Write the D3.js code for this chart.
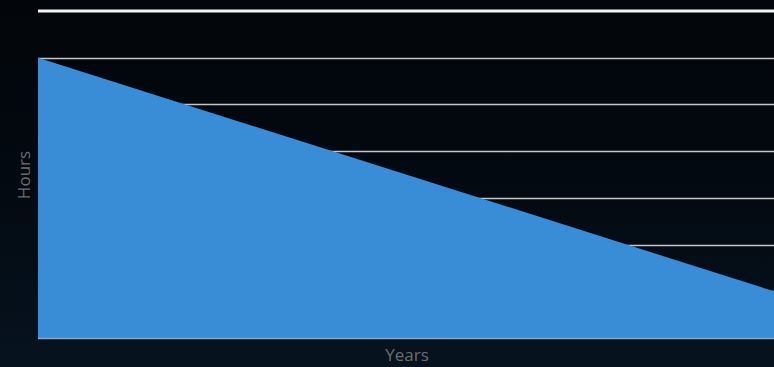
<!DOCTYPE html>
<html lang="en">
<head><meta charset="utf-8"><title>Hours over years</title>
<style>
  html, body { margin: 0; padding: 0; background: #02060b; }
  svg { display: block; }
</style>
</head>
<body>
<svg width="774" height="367"></svg>
<script src="https://d3js.org/d3.v7.min.js"></script>
<script>
// values
var years = [0, 1];
var hours = [6, 1];
var gridTicks = [1, 2, 3, 4, 5, 6];
var topValue = 7;

var svg = d3.select("svg"),
    width = +svg.attr("width"),
    height = +svg.attr("height"),
    margin = { top: 11, right: 0, bottom: 29, left: 38 };

// background: dark navy with a slight glow toward the bottom
var defs = svg.append("defs");
var bg = defs.append("linearGradient").attr("id", "bg")
    .attr("x1", 0).attr("y1", 0).attr("x2", 0).attr("y2", 1);
bg.append("stop").attr("offset", "0%").attr("stop-color", "#020509");
bg.append("stop").attr("offset", "55%").attr("stop-color", "#030a12");
bg.append("stop").attr("offset", "100%").attr("stop-color", "#06131f");
svg.append("rect").attr("width", width).attr("height", height).attr("fill", "url(#bg)");

var x = d3.scaleLinear().domain(d3.extent(years)).range([margin.left, width - margin.right]);
var y = d3.scaleLinear().domain([0, topValue]).range([height - margin.bottom, margin.top]);

// gridlines (drawn under the area)
svg.append("g")
    .selectAll("line")
    .data(gridTicks)
    .join("line")
    .attr("x1", margin.left)
    .attr("x2", width - margin.right)
    .attr("y1", function(d) { return Math.round(y(d)) + 0.5; })
    .attr("y2", function(d) { return Math.round(y(d)) + 0.5; })
    .attr("stroke", "#c4c6c8")
    .attr("stroke-width", 1.3);

// heavy top rule
svg.append("line")
    .attr("x1", margin.left).attr("x2", width - margin.right)
    .attr("y1", y(topValue)).attr("y2", y(topValue))
    .attr("stroke", "#f4f4f4")
    .attr("stroke-width", 3);

var area = d3.area()
    .x(function(d, i) { return x(years[i]); })
    .y0(y(0))
    .y1(function(d) { return y(d); });

svg.append("path")
    .datum(hours)
    .attr("d", area)
    .attr("fill", "#398dd6");

// baseline
svg.append("line")
    .attr("x1", margin.left).attr("x2", width - margin.right)
    .attr("y1", y(0) + 0.5).attr("y2", y(0) + 0.5)
    .attr("stroke", "#86a9cc")
    .attr("stroke-width", 1.5);

// axis titles
svg.append("text")
    .attr("transform", "translate(30,175) rotate(-90)")
    .attr("text-anchor", "middle")
    .attr("font-family", "Open Sans, sans-serif")
    .attr("font-size", 17)
    .attr("fill", "#6a6d71")
    .text("Hours");

svg.append("text")
    .attr("x", 407)
    .attr("y", 361)
    .attr("text-anchor", "middle")
    .attr("font-family", "Open Sans, sans-serif")
    .attr("font-size", 17)
    .attr("fill", "#6a6d71")
    .text("Years");
</script>
</body>
</html>
